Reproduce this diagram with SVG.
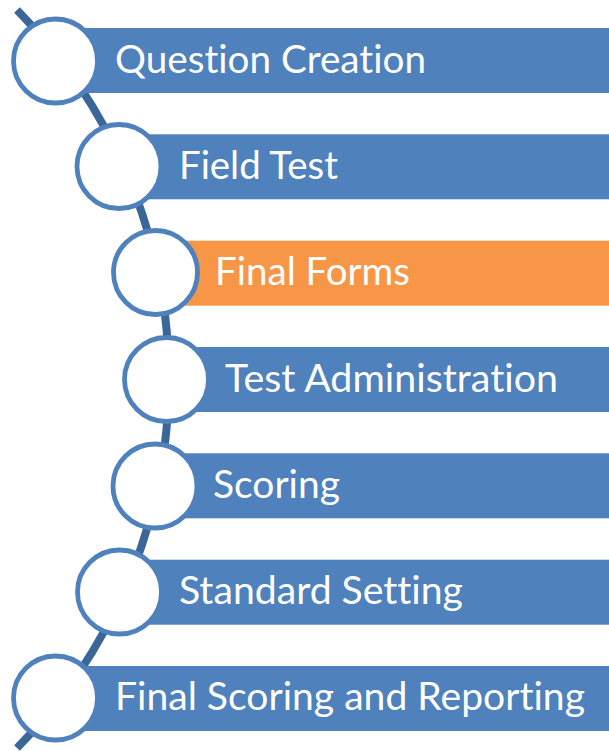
<svg xmlns="http://www.w3.org/2000/svg" width="609" height="751" viewBox="0 0 609 751">
<style>
.bar{fill:#4F81BD}
.bar.hl{fill:#F79646}
.ring{fill:#FFFFFF;stroke:#4F81BD;stroke-width:4.8}
.lbl{fill:#FFFFFF;font-family:Lato,"Open Sans","Liberation Sans",sans-serif;font-size:39px;font-variant-ligatures:none}
.arc{fill:none;stroke:#3B6698;stroke-width:8}
</style>
<rect width="609" height="751" fill="#FFFFFF"/>
<g id="connectors">
<path class="arc" d="M 17 10 A 524.3 524.3 0 0 1 17 748"/>
</g>
<g id="node1">
<rect class="bar" x="56" y="28" width="553" height="65"/>
<circle class="ring" cx="55.5" cy="61" r="42"/>
<text class="lbl" x="115" y="72.5" textLength="311" lengthAdjust="spacingAndGlyphs">Question Creation</text>
</g>
<g id="node2">
<rect class="bar" x="119" y="134.3" width="490" height="65"/>
<circle class="ring" cx="119" cy="166.5" r="42"/>
<text class="lbl" x="179" y="178.8" textLength="159" lengthAdjust="spacingAndGlyphs">Field Test</text>
</g>
<g id="node3">
<rect class="bar hl" x="155.5" y="240.7" width="453.5" height="65"/>
<circle class="ring" cx="155.5" cy="272.5" r="42"/>
<text class="lbl" x="215" y="285.2" textLength="195" lengthAdjust="spacingAndGlyphs">Final Forms</text>
</g>
<g id="node4">
<rect class="bar" x="166.5" y="347" width="442.5" height="65"/>
<circle class="ring" cx="166.5" cy="379.5" r="42"/>
<text class="lbl" x="225" y="391.5" textLength="333" lengthAdjust="spacingAndGlyphs">Test Administration</text>
</g>
<g id="node5">
<rect class="bar" x="155" y="453.3" width="454" height="65"/>
<circle class="ring" cx="155" cy="486" r="42"/>
<text class="lbl" x="213" y="497.8" textLength="127" lengthAdjust="spacingAndGlyphs">Scoring</text>
</g>
<g id="node6">
<rect class="bar" x="119.5" y="559.7" width="489.5" height="65"/>
<circle class="ring" cx="119.5" cy="592" r="42"/>
<text class="lbl" x="179" y="604.2" textLength="284" lengthAdjust="spacingAndGlyphs">Standard Setting</text>
</g>
<g id="node7">
<rect class="bar" x="55.5" y="666" width="553.5" height="65"/>
<circle class="ring" cx="55.5" cy="698" r="42"/>
<text class="lbl" x="115" y="710" textLength="470" lengthAdjust="spacingAndGlyphs">Final Scoring and Reporting</text>
</g>
</svg>
